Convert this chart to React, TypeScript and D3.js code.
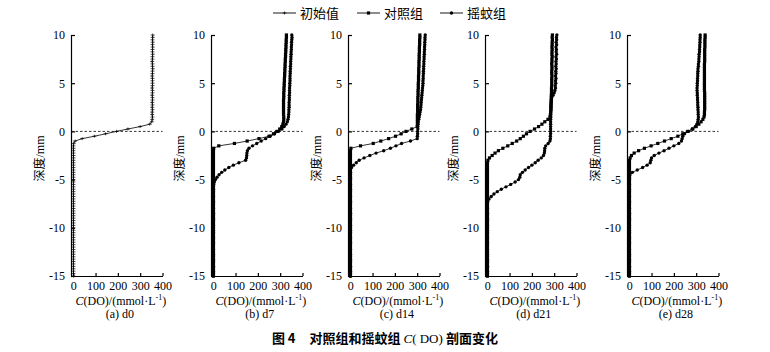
import React, { useRef, useEffect } from "react";
import * as d3 from "d3";

// depth grid (mm), one reading every 0.25 mm from +10 down to -15
const depth = [
  10, 9.75, 9.5, 9.25, 9, 8.75, 8.5, 8.25, 8, 7.75, 7.5, 7.25, 7, 6.75, 6.5, 6.25, 6, 5.75, 5.5, 5.25,
  5, 4.75, 4.5, 4.25, 4, 3.75, 3.5, 3.25, 3, 2.75, 2.5, 2.25, 2, 1.75, 1.5, 1.25, 1, 0.75, 0.5, 0.25,
  0, -0.25, -0.5, -0.75, -1, -1.25, -1.5, -1.75, -2, -2.25, -2.5, -2.75, -3, -3.25, -3.5, -3.75, -4, -4.25, -4.5, -4.75,
  -5, -5.25, -5.5, -5.75, -6, -6.25, -6.5, -6.75, -7, -7.25, -7.5, -7.75, -8, -8.25, -8.5, -8.75, -9, -9.25, -9.5, -9.75,
  -10, -10.25, -10.5, -10.75, -11, -11.25, -11.5, -11.75, -12, -12.25, -12.5, -12.75, -13, -13.25, -13.5, -13.75, -14, -14.25, -14.5, -14.75, -15,
];

// C(DO) values, same order as depth
const initD0 = [
  356, 356, 355, 356, 355, 356, 355, 355, 356, 355, 355, 354, 355, 355, 356, 355, 355, 354, 355, 355,
  355, 355, 354, 355, 355, 354, 355, 355, 354, 355, 354, 355, 354, 354, 355, 354, 352, 343, 300, 245,
  194, 145, 95, 40, 8, 2, 1, 1, 1, 1, 1, 1, 1, 1, 1, 1, 1, 1, 1, 1,
  1, 1, 1, 1, 1, 1, 1, 1, 1, 1, 1, 1, 1, 1, 1, 1, 1, 1, 1, 1,
  1, 1, 1, 1, 1, 1, 1, 1, 1, 1, 1, 1, 1, 1, 1, 1, 1, 1, 1, 1, 1,
];

const ctrlD7 = [
  328, 328, 327, 327, 326, 326, 325, 325, 324, 324, 323, 323, 322, 322, 321, 321, 320, 320, 319, 319,
  318, 318, 317, 317, 316, 316, 316, 315, 315, 315, 315, 315, 315, 315, 316, 316, 315, 312, 307, 298,
  285, 270, 250, 205, 152, 95, 25, 2, 1, 1, 1, 1, 1, 1, 1, 1, 1, 1, 1, 1,
  1, 1, 1, 1, 1, 1, 1, 1, 1, 1, 1, 1, 1, 1, 1, 1, 1, 1, 1, 1,
  1, 1, 1, 1, 1, 1, 1, 1, 1, 1, 1, 1, 1, 1, 1, 1, 1, 1, 1, 1, 1,
];
const midgeD7 = [
  352, 353, 352, 351, 351, 350, 350, 349, 349, 348, 348, 347, 347, 346, 346, 345, 345, 344, 344, 344,
  343, 343, 342, 342, 342, 341, 341, 341, 340, 340, 340, 339, 339, 338, 337, 335, 332, 326, 318, 308,
  292, 275, 255, 235, 215, 195, 176, 160, 153, 151, 150, 149, 145, 115, 90, 70, 52, 38, 26, 17,
  10, 5, 2, 1, 1, 1, 1, 1, 1, 1, 1, 1, 1, 1, 1, 1, 1, 1, 1, 1,
  1, 1, 1, 1, 1, 1, 1, 1, 1, 1, 1, 1, 1, 1, 1, 1, 1, 1, 1, 1, 1,
];

const ctrlD14 = [
  312, 312, 311, 311, 311, 310, 310, 310, 309, 309, 309, 308, 308, 308, 307, 307, 307, 306, 306, 306,
  305, 305, 305, 304, 304, 304, 303, 303, 303, 302, 302, 302, 302, 301, 301, 301, 301, 301, 300, 276,
  250, 228, 203, 172, 137, 103, 46, 3, 1, 1, 1, 1, 1, 1, 1, 1, 1, 1, 1, 1,
  1, 1, 1, 1, 1, 1, 1, 1, 1, 1, 1, 1, 1, 1, 1, 1, 1, 1, 1, 1,
  1, 1, 1, 1, 1, 1, 1, 1, 1, 1, 1, 1, 1, 1, 1, 1, 1, 1, 1, 1, 1,
];
const midgeD14 = [
  336, 335, 335, 334, 334, 333, 333, 332, 332, 331, 331, 330, 330, 329, 329, 328, 328, 327, 327, 326,
  326, 325, 324, 323, 322, 321, 320, 319, 318, 317, 316, 315, 313, 311, 309, 307, 305, 304, 303, 303,
  302, 302, 301, 300, 270, 230, 205, 180, 150, 116, 88, 62, 40, 27, 15, 6, 1, 1, 1, 1,
  1, 1, 1, 1, 1, 1, 1, 1, 1, 1, 1, 1, 1, 1, 1, 1, 1, 1, 1, 1,
  1, 1, 1, 1, 1, 1, 1, 1, 1, 1, 1, 1, 1, 1, 1, 1, 1, 1, 1, 1, 1,
];

const ctrlD21 = [
  292, 291, 292, 291, 291, 290, 291, 290, 290, 291, 290, 290, 289, 290, 290, 289, 289, 290, 289, 289,
  289, 289, 288, 288, 288, 287, 287, 286, 286, 285, 285, 285, 284, 283, 281, 272, 258, 245, 230, 212,
  192, 176, 162, 148, 132, 112, 92, 70, 50, 35, 22, 10, 3, 1, 1, 1, 1, 1, 1, 1,
  1, 1, 1, 1, 1, 1, 1, 1, 1, 1, 1, 1, 1, 1, 1, 1, 1, 1, 1, 1,
  1, 1, 1, 1, 1, 1, 1, 1, 1, 1, 1, 1, 1, 1, 1, 1, 1, 1, 1, 1, 1,
];
const midgeD21 = [
  312, 310, 311, 309, 311, 308, 310, 309, 311, 308, 310, 308, 309, 307, 309, 307, 308, 306, 308, 306,
  307, 305, 306, 303, 300, 295, 289, 288, 287, 287, 286, 286, 285, 285, 285, 284, 284, 284, 284, 284,
  284, 284, 283, 283, 281, 273, 262, 258, 257, 256, 252, 242, 228, 215, 200, 185, 170, 158, 148, 146,
  140, 125, 105, 84, 63, 45, 30, 18, 8, 2, 1, 1, 1, 1, 1, 1, 1, 1, 1, 1,
  1, 1, 1, 1, 1, 1, 1, 1, 1, 1, 1, 1, 1, 1, 1, 1, 1, 1, 1, 1, 1,
];

const ctrlD28 = [
  340, 340, 339, 339, 339, 339, 338, 338, 338, 338, 338, 338, 337, 337, 337, 337, 337, 337, 337, 337,
  337, 337, 337, 337, 338, 338, 338, 338, 338, 338, 338, 338, 337, 337, 335, 330, 322, 312, 300, 285,
  262, 240, 218, 188, 158, 128, 98, 68, 42, 22, 10, 4, 1, 1, 1, 1, 1, 1, 1, 1,
  1, 1, 1, 1, 1, 1, 1, 1, 1, 1, 1, 1, 1, 1, 1, 1, 1, 1, 1, 1,
  1, 1, 1, 1, 1, 1, 1, 1, 1, 1, 1, 1, 1, 1, 1, 1, 1, 1, 1, 1, 1,
];
const midgeD28 = [
  318, 318, 317, 317, 316, 316, 315, 315, 313, 313, 312, 312, 310, 310, 308, 308, 307, 307, 306, 306,
  305, 305, 304, 304, 305, 305, 306, 306, 307, 307, 308, 308, 309, 309, 310, 309, 307, 303, 296, 282,
  265, 248, 240, 237, 234, 222, 200, 178, 156, 133, 112, 100, 97, 94, 80, 60, 36, 14, 3, 1,
  1, 1, 1, 1, 1, 1, 1, 1, 1, 1, 1, 1, 1, 1, 1, 1, 1, 1, 1, 1,
  1, 1, 1, 1, 1, 1, 1, 1, 1, 1, 1, 1, 1, 1, 1, 1, 1, 1, 1, 1, 1,
];

const panelLabels = ["(a) d0", "(b) d7", "(c) d14", "(d) d21", "(e) d28"];
const legendLabels = ["初始值", "对照组", "摇蚊组"];
const xTicks = [0, 100, 200, 300, 400];
const yTicks = [10, 5, 0, -5, -10, -15];

type Kind = "init" | "ctrl" | "midge";
const panels: { label: string; series: { kind: Kind; values: number[] }[] }[] = [
  { label: panelLabels[0], series: [{ kind: "init", values: initD0 }] },
  { label: panelLabels[1], series: [{ kind: "ctrl", values: ctrlD7 }, { kind: "midge", values: midgeD7 }] },
  { label: panelLabels[2], series: [{ kind: "ctrl", values: ctrlD14 }, { kind: "midge", values: midgeD14 }] },
  { label: panelLabels[3], series: [{ kind: "ctrl", values: ctrlD21 }, { kind: "midge", values: midgeD21 }] },
  { label: panelLabels[4], series: [{ kind: "ctrl", values: ctrlD28 }, { kind: "midge", values: midgeD28 }] },
];

const W = 770;
const H = 352;
const axisLeft = [71, 211, 348, 485, 627];
const plotTop = 35;
const plotBottom = 276;
const plotW = 91.5;
const serif = "Liberation Serif, Times New Roman, Noto Sans CJK SC, serif";
const cjk = "Noto Sans CJK SC, Liberation Serif, serif";

// draws one marker of the given kind into g at (cx, cy)
function marker(g: any, kind: Kind, cx: number, cy: number) {
  if (kind === "init") {
    g.append("path")
      .attr("d", `M${cx - 2},${cy}H${cx + 2}M${cx},${cy - 1.5}V${cy + 1.5}`)
      .attr("stroke", "#000")
      .attr("stroke-width", 0.7)
      .attr("fill", "none");
  } else if (kind === "ctrl") {
    g.append("rect")
      .attr("x", cx - 1.6)
      .attr("y", cy - 1.6)
      .attr("width", 3.2)
      .attr("height", 3.2)
      .attr("fill", "#000");
  } else {
    g.append("circle").attr("cx", cx).attr("cy", cy).attr("r", 1.7).attr("fill", "#000");
  }
}

const App: React.FC = () => {
  const svgRef = useRef<SVGSVGElement>(null);

  useEffect(() => {
    if (!svgRef.current) return;
    const svg = d3.select(svgRef.current);
    svg.selectAll("*").remove();

    const y = d3.scaleLinear().domain([-15, 10]).range([plotBottom, plotTop]);

    panels.forEach((p, pi) => {
      const x0 = axisLeft[pi];
      const x = d3.scaleLinear().domain([-10, 400]).range([x0, x0 + plotW]);
      const g = svg.append("g");

      // zero depth reference (sediment-water interface)
      g.append("line")
        .attr("x1", x(-10))
        .attr("x2", x(400))
        .attr("y1", y(0))
        .attr("y2", y(0))
        .attr("stroke", "#000")
        .attr("stroke-width", 0.8)
        .attr("stroke-dasharray", "2.5,2");

      p.series.forEach((s) => {
        const pts = s.values.map((v, i) => [v, depth[i]] as [number, number]);
        const line = d3
          .line<[number, number]>()
          .x((d) => x(d[0]))
          .y((d) => y(d[1]));
        g.append("path")
          .attr("d", line(pts))
          .attr("fill", "none")
          .attr("stroke", "#000")
          .attr("stroke-width", 0.8);
        const mg = g.append("g");
        pts.forEach((d) => marker(mg, s.kind, x(d[0]), y(d[1])));
      });

      // axes, ticks pointing inward
      const yAxis = d3
        .axisLeft(y)
        .tickValues(yTicks)
        .tickSizeInner(-4)
        .tickSizeOuter(0)
        .tickPadding(6)
        .tickFormat((d) => String(d));
      const ya = g.append("g").attr("transform", `translate(${x0},0)`).call(yAxis);
      ya.attr("font-family", null).attr("font-size", null);
      ya.selectAll("path,line").attr("stroke", "#000").attr("stroke-width", 1.2);
      ya.selectAll("text")
        .attr("fill", "#000")
        .style("font-family", serif)
        .style("font-size", "12px");

      const xAxis = d3
        .axisBottom(x)
        .tickValues(xTicks)
        .tickSizeInner(-3)
        .tickSizeOuter(0)
        .tickPadding(5)
        .tickFormat((d) => String(d));
      const xa = g.append("g").attr("transform", `translate(0,${plotBottom})`).call(xAxis);
      xa.attr("font-family", null).attr("font-size", null);
      xa.selectAll("path,line").attr("stroke", "#000").attr("stroke-width", 1.2);
      xa.selectAll("text")
        .attr("fill", "#000")
        .style("font-family", serif)
        .style("font-size", "12px");

      // y title
      g.append("text")
        .attr("transform", `translate(${x0 - 30},${(plotTop + plotBottom) / 2 + 3}) rotate(-90)`)
        .attr("text-anchor", "middle")
        .attr("dominant-baseline", "middle")
        .style("font-family", serif)
        .style("font-size", "12px")
        .text("深度/mm");

      // x title
      const xt = g
        .append("text")
        .attr("x", x(200) + 3)
        .attr("y", 305)
        .attr("text-anchor", "middle")
        .style("font-family", serif)
        .style("font-size", "12px");
      xt.append("tspan").style("font-style", "italic").text("C");
      xt.append("tspan").text("(DO)/(mmol·L");
      xt.append("tspan").style("font-size", "8px").attr("dy", -5).text("-1");
      xt.append("tspan").attr("dy", 5).text(")");

      g.append("text")
        .attr("x", x(200) + 2)
        .attr("y", 318)
        .attr("text-anchor", "middle")
        .style("font-family", serif)
        .style("font-size", "12px")
        .text(p.label);
    });

    // legend
    const legendX = [273, 357, 440];
    const kinds: Kind[] = ["init", "ctrl", "midge"];
    legendLabels.forEach((lab, i) => {
      const lg = svg.append("g");
      lg.append("line")
        .attr("x1", legendX[i])
        .attr("x2", legendX[i] + 23)
        .attr("y1", 13)
        .attr("y2", 13)
        .attr("stroke", "#000")
        .attr("stroke-width", 0.9);
      marker(lg, kinds[i], legendX[i] + 11.5, 13);
      lg.append("text")
        .attr("x", legendX[i] + 27)
        .attr("y", 17.5)
        .style("font-family", cjk)
        .style("font-size", "13px")
        .text(lab);
    });

    // figure caption
    const cap = svg
      .append("text")
      .attr("x", 385)
      .attr("y", 343)
      .attr("text-anchor", "middle")
      .style("font-family", cjk)
      .style("font-size", "13px")
      .style("font-weight", "bold");
    cap.append("tspan").text("图 4");
    cap.append("tspan").attr("dx", 14).text("对照组和摇蚊组 ");
    cap.append("tspan").style("font-family", serif).style("font-style", "italic").style("font-weight", "normal").text("C");
    cap.append("tspan").style("font-family", serif).style("font-weight", "normal").text("( DO) ");
    cap.append("tspan").text("剖面变化");
  }, []);

  return (
    <svg
      ref={svgRef}
      width={W}
      height={H}
      style={{ position: "absolute", left: 0, top: 0, background: "#fff" }}
    ></svg>
  );
};

export default App;
